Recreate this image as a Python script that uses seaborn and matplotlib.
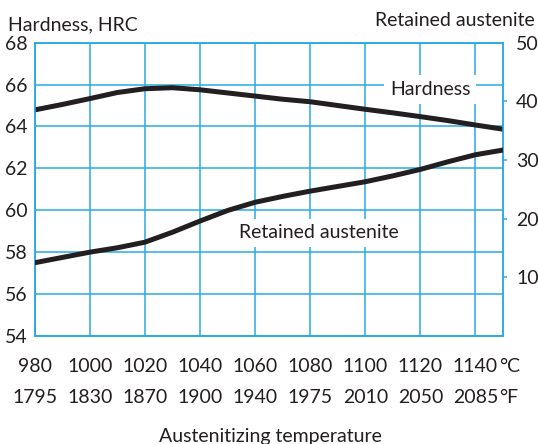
import numpy as np
import pandas as pd
import seaborn as sns
from matplotlib import pyplot as plt
from matplotlib import transforms

# Data
temp_c = [980, 990, 1000, 1010, 1020, 1030, 1040, 1050, 1060,
          1070, 1080, 1090, 1100, 1110, 1120, 1130, 1140, 1150]
hardness = [64.79, 65.05, 65.33, 65.62, 65.8, 65.85, 65.75, 65.6, 65.45,
            65.3, 65.18, 65.0, 64.82, 64.65, 64.47, 64.28, 64.07, 63.87]
retained = [12.5, 13.4, 14.3, 15.05, 16.0, 17.7, 19.6, 21.4, 22.8,
            23.8, 24.7, 25.5, 26.3, 27.3, 28.4, 29.7, 30.9, 31.7]

tick_c = [980, 1000, 1020, 1040, 1060, 1080, 1100, 1120, 1140]
tick_f = [1795, 1830, 1870, 1900, 1940, 1975, 2010, 2050, 2085]

hrc_ticks = [54, 56, 58, 60, 62, 64, 66, 68]
ra_ticks = [10, 20, 30, 40, 50]

sns.set_style("white")
plt.rcParams['font.family'] = ['Lato', 'DejaVu Sans']

blue = '#29abe2'
ink = '#231f20'
fs = 14

fig = plt.figure(figsize=(5.38, 4.44), dpi=100)
ax = fig.add_axes([0.0645, 0.243, 0.8705, 0.661])
ax2 = ax.twinx()

df = pd.DataFrame({'temp': temp_c, 'hrc': hardness, 'ra': retained})

sns.lineplot(data=df, x='temp', y='hrc', ax=ax, color=ink, lw=3.6, zorder=5)
sns.lineplot(data=df, x='temp', y='ra', ax=ax2, color=ink, lw=3.6, zorder=5)

ax.set_xlim(980, 1150)
ax.set_ylim(54, 68)
ax2.set_ylim(0, 50)

ax.set_xticks(tick_c)
ax.set_xticklabels([])
ax.set_yticks(hrc_ticks)
ax.grid(True, color=blue, lw=1.1)
ax.tick_params(axis='both', length=0, labelsize=fs, colors=ink)
ax.tick_params(axis='y', pad=5)
ax.set_xlabel('')
ax.set_ylabel('')

ax2.set_yticks(ra_ticks)
ax2.tick_params(axis='y', length=3, width=1.1, color=blue, labelcolor=ink,
                labelsize=fs, pad=6.5, direction='out')
ax2.set_ylabel('')
ax2.grid(False)
ax2.yaxis.get_major_ticks()[-1].tick2line.set_visible(False)

for a in (ax, ax2):
    for s in a.spines.values():
        s.set_color(blue)
        s.set_linewidth(1.1)

# two rows of temperature labels: Celsius and Fahrenheit
trans = transforms.blended_transform_factory(ax.transData, ax.transAxes)
for row, (vals, unit, yb) in enumerate([(tick_c, '°C', -0.1227), (tick_f, '°F', -0.2284)]):
    for c, v in zip(tick_c, vals):
        t = ax.text(c, yb, str(v), transform=trans, ha='center', va='baseline',
                    fontsize=fs, color=ink, clip_on=False)
    ax.annotate(unit, xy=(1, 0), xycoords=t, xytext=(0.8, 0),
                textcoords='offset points', ha='left', va='bottom',
                fontsize=fs, color=ink)

# curve labels
ax.text(1123.5, 65.5, 'Hardness', ha='center', va='baseline', fontsize=fs, color=ink,
        bbox=dict(facecolor='white', edgecolor='none', pad=4), zorder=6)
ax2.text(1054, 16.65, 'Retained austenite', ha='left', va='baseline', fontsize=fs,
         color=ink, bbox=dict(facecolor='white', edgecolor='none', pad=4), zorder=6)

fig.text(8 / 538, 1 - 30 / 444, 'Hardness, HRC', ha='left', va='baseline',
         fontsize=fs, color=ink)
fig.text(535 / 538, 1 - 26 / 444, 'Retained austenite', ha='right', va='baseline',
         fontsize=fs, color=ink)
fig.text(270 / 538, 1 - 441.5 / 444, 'Austenitizing temperature', ha='center',
         va='baseline', fontsize=fs, color=ink)

fig.savefig('out.png', dpi=100)
